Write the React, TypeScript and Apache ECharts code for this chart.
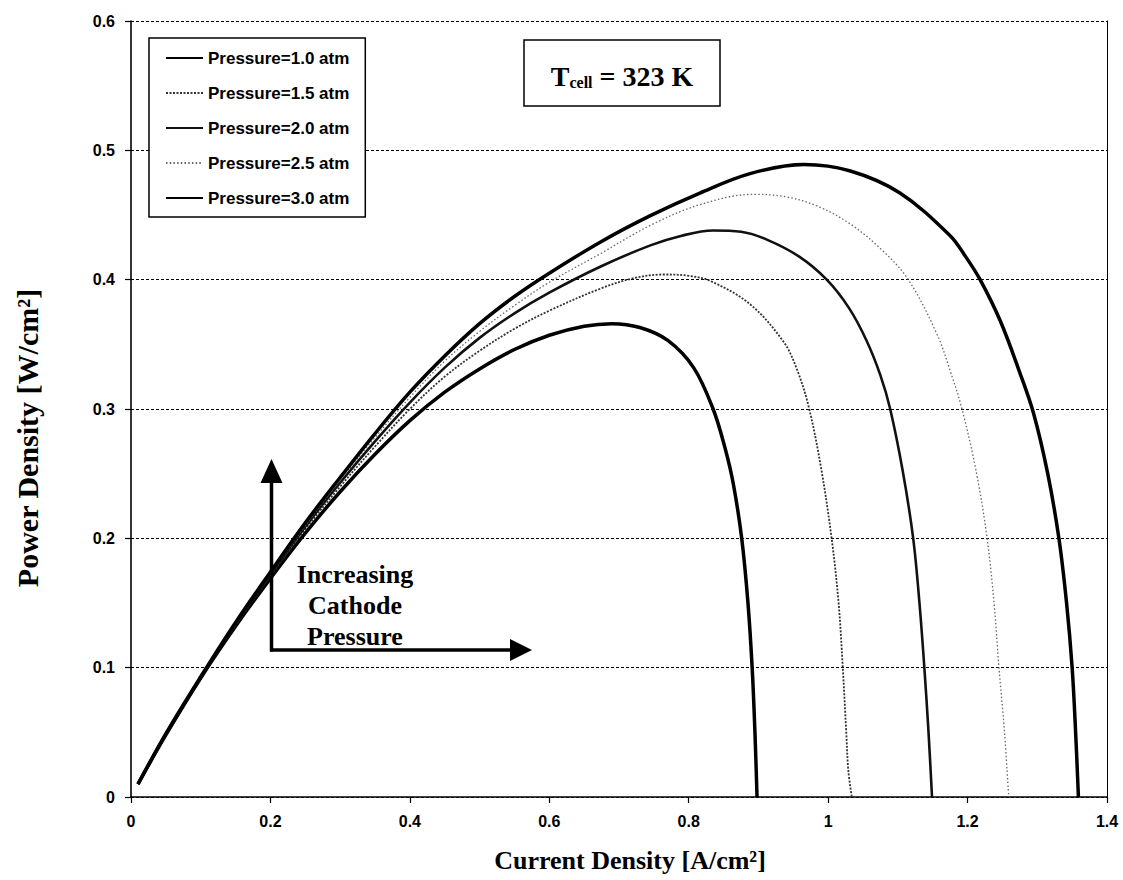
import React, { useEffect, useRef } from "react";
import * as echarts from "echarts";

const FONT_SANS = '"Liberation Sans", Arial, sans-serif';
const FONT_SERIF = '"Liberation Serif", "Times New Roman", serif';

const seriesNames = [
  "Pressure=1.0 atm",
  "Pressure=1.5 atm",
  "Pressure=2.0 atm",
  "Pressure=2.5 atm",
  "Pressure=3.0 atm",
];

// [current density A/cm2, power density W/cm2]
const p10: number[][] = [
  [0.01, 0.01], [0.05, 0.048], [0.1, 0.092], [0.15, 0.132], [0.2, 0.169], [0.25, 0.204],
  [0.3, 0.236], [0.35, 0.265], [0.4, 0.291], [0.45, 0.313], [0.5, 0.331], [0.55, 0.346],
  [0.6, 0.357], [0.65, 0.364], [0.69, 0.366], [0.73, 0.363], [0.77, 0.353], [0.807, 0.332],
  [0.835, 0.3], [0.852, 0.27], [0.864, 0.242], [0.876, 0.2], [0.885, 0.15], [0.891, 0.1],
  [0.895, 0.05], [0.898, 0],
];
const p15: number[][] = [
  [0.01, 0.01], [0.05, 0.048], [0.1, 0.092], [0.15, 0.133], [0.2, 0.171], [0.25, 0.207],
  [0.3, 0.24], [0.35, 0.271], [0.4, 0.3], [0.45, 0.325], [0.5, 0.345], [0.55, 0.362],
  [0.6, 0.376], [0.673, 0.393], [0.72, 0.401], [0.764, 0.404], [0.8, 0.403], [0.831, 0.399],
  [0.888, 0.381], [0.936, 0.352], [0.955, 0.331], [0.972, 0.302], [0.99, 0.254], [1.005, 0.2],
  [1.015, 0.15], [1.021, 0.1], [1.026, 0.05], [1.029, 0.02], [1.034, 0],
];
const p20: number[][] = [
  [0.01, 0.01], [0.05, 0.048], [0.1, 0.092], [0.15, 0.134], [0.2, 0.172], [0.25, 0.209],
  [0.3, 0.243], [0.35, 0.275], [0.4, 0.305], [0.45, 0.332], [0.5, 0.355], [0.55, 0.374],
  [0.6, 0.39], [0.673, 0.41], [0.745, 0.4265], [0.79, 0.434], [0.835, 0.438], [0.875, 0.437],
  [0.912, 0.431], [0.958, 0.418], [0.998, 0.4], [1.03, 0.378], [1.055, 0.353], [1.075, 0.326],
  [1.089, 0.3], [1.107, 0.252], [1.122, 0.2], [1.131, 0.15], [1.138, 0.1], [1.144, 0.05],
  [1.149, 0],
];
const p25: number[][] = [
  [0.01, 0.01], [0.05, 0.048], [0.1, 0.093], [0.15, 0.134], [0.2, 0.173], [0.25, 0.21],
  [0.3, 0.245], [0.35, 0.278], [0.4, 0.309], [0.45, 0.337], [0.5, 0.36], [0.55, 0.38],
  [0.6, 0.398], [0.673, 0.42], [0.745, 0.442], [0.816, 0.458], [0.893, 0.466], [0.94, 0.464],
  [0.984, 0.457], [1.032, 0.443], [1.079, 0.422], [1.115, 0.4], [1.156, 0.358], [1.176, 0.328],
  [1.192, 0.3], [1.213, 0.25], [1.228, 0.2], [1.238, 0.15], [1.245, 0.1], [1.253, 0.05],
  [1.259, 0],
];
const p30: number[][] = [
  [0.01, 0.01], [0.05, 0.049], [0.1, 0.093], [0.15, 0.135], [0.2, 0.174], [0.25, 0.212],
  [0.3, 0.247], [0.35, 0.281], [0.4, 0.313], [0.45, 0.341], [0.5, 0.366], [0.55, 0.387],
  [0.6, 0.405], [0.673, 0.429], [0.745, 0.4495], [0.816, 0.467], [0.888, 0.482], [0.965, 0.489],
  [1.032, 0.484], [1.103, 0.467], [1.175, 0.434], [1.197, 0.418], [1.218, 0.4], [1.247, 0.368],
  [1.275, 0.328], [1.295, 0.296], [1.315, 0.25], [1.331, 0.2], [1.342, 0.15], [1.35, 0.1],
  [1.355, 0.05], [1.359, 0],
];

const seriesData = [p10, p15, p20, p25, p30];

const lineStyles = [
  { color: "#000", width: 3.5, type: "solid" },
  { color: "#333", width: 1.8, type: [2, 1.5] },
  { color: "#111", width: 2.6, type: "solid" },
  { color: "#666", width: 1.3, type: [1.5, 2.2] },
  { color: "#000", width: 3.5, type: "solid" },
];

const xTickMin = 0;
const xTickMax = 1.4;
const xTickStep = 0.2;
const yTickMin = 0;
const yTickMax = 0.6;
const yTickStep = 0.1;

const xTitle = "Current Density [A/cm²]";
const yTitle = "Power Density [W/cm²]";
const noteText = "Increasing\nCathode\nPressure";

export default function App() {
  const ref = useRef<HTMLDivElement>(null);

  useEffect(() => {
    if (!ref.current) return;
    const chart = echarts.init(ref.current, undefined, { renderer: "svg" });

    const series = seriesData.map((d, i) => ({
      name: seriesNames[i],
      type: "line",
      data: d,
      smooth: 0.35,
      symbol: "none",
      showSymbol: false,
      lineStyle: { ...lineStyles[i] },
      itemStyle: { color: lineStyles[i].color },
      z: 3,
    }));

    chart.setOption({
      animation: false,
      backgroundColor: "#fff",
      grid: { left: 131, top: 21, width: 976, height: 776, containLabel: false },
      xAxis: {
        type: "value",
        min: xTickMin,
        max: xTickMax,
        interval: xTickStep,
        axisLine: { show: true, onZero: false, lineStyle: { color: "#000", width: 1.6 } },
        axisTick: { show: true, length: 6, lineStyle: { color: "#000", width: 1.2 } },
        axisLabel: {
          margin: 16,
          color: "#000",
          fontFamily: FONT_SANS,
          fontSize: 16,
          fontWeight: "bold",
        },
        splitLine: { show: false },
      },
      yAxis: [
        {
          type: "value",
          min: yTickMin,
          max: yTickMax,
          interval: yTickStep,
          axisLine: { show: true, onZero: false, lineStyle: { color: "#000", width: 1.6 } },
          axisTick: { show: true, length: 6, lineStyle: { color: "#000", width: 1.2 } },
          axisLabel: {
            margin: 16,
            color: "#000",
            fontFamily: FONT_SANS,
            fontSize: 16,
            fontWeight: "bold",
          },
          splitLine: { show: true, lineStyle: { color: "#000", width: 1, type: [3, 2] } },
        },
        {
          type: "value",
          position: "right",
          min: yTickMin,
          max: yTickMax,
          interval: yTickStep,
          axisLine: { show: true, onZero: false, lineStyle: { color: "#000", width: 1 } },
          axisTick: { show: false },
          axisLabel: { show: false },
          splitLine: { show: false },
        },
      ],
      legend: {
        orient: "vertical",
        left: 149,
        top: 38,
        padding: [10, 16, 9, 16],
        borderColor: "#000",
        borderWidth: 1.5,
        backgroundColor: "#fff",
        itemWidth: 37,
        itemHeight: 14,
        itemGap: 15,
        itemStyle: { opacity: 0, borderWidth: 0 },
        textStyle: {
          fontFamily: FONT_SANS,
          fontSize: 17,
          fontWeight: "bold",
          color: "#000",
          lineHeight: 20,
        },
        data: seriesNames,
      },
      series,
      graphic: [
        {
          type: "rect",
          shape: { x: 524, y: 40, width: 196, height: 66 },
          style: { fill: "#fff", stroke: "#000", lineWidth: 1.5 },
          z: 10,
        },
        {
          type: "text",
          x: 622,
          y: 73,
          z: 11,
          style: {
            text: "{a|T}{b|cell}{a| = 323 K}",
            align: "center",
            verticalAlign: "middle",
            fill: "#000",
            rich: {
              a: { fontFamily: FONT_SERIF, fontSize: 28, fontWeight: "bold", verticalAlign: "bottom", lineHeight: 34, fill: "#000" },
              b: { fontFamily: FONT_SERIF, fontSize: 16, fontWeight: "bold", verticalAlign: "bottom", lineHeight: 16, fill: "#000" },
            },
          },
        },
        {
          type: "line",
          shape: { x1: 271.5, y1: 651.5, x2: 271.5, y2: 480 },
          style: { stroke: "#000", lineWidth: 3.5 },
          z: 10,
        },
        {
          type: "polygon",
          shape: { points: [[260.5, 483], [282.5, 483], [271.5, 459]] },
          style: { fill: "#000" },
          z: 10,
        },
        {
          type: "line",
          shape: { x1: 270, y1: 650, x2: 512, y2: 650 },
          style: { stroke: "#000", lineWidth: 3.5 },
          z: 10,
        },
        {
          type: "polygon",
          shape: { points: [[510, 639], [510, 661], [532, 650]] },
          style: { fill: "#000" },
          z: 10,
        },
        {
          type: "text",
          x: 355,
          y: 558.5,
          z: 10,
          style: {
            text: noteText,
            align: "center",
            verticalAlign: "top",
            fontFamily: FONT_SERIF,
            fontSize: 26,
            fontWeight: "bold",
            lineHeight: 31,
            fill: "#000",
          },
        },
        {
          type: "text",
          x: 630,
          y: 860,
          style: {
            text: xTitle,
            align: "center",
            verticalAlign: "middle",
            fontFamily: FONT_SERIF,
            fontSize: 26,
            fontWeight: "bold",
            fill: "#000",
          },
        },
        {
          type: "text",
          x: 27,
          y: 438,
          rotation: Math.PI / 2,
          style: {
            text: yTitle,
            align: "center",
            verticalAlign: "middle",
            fontFamily: FONT_SERIF,
            fontSize: 30,
            fontWeight: "bold",
            fill: "#000",
          },
        },
      ],
    });

    return () => chart.dispose();
  }, []);

  return (
    <div
      ref={ref}
      style={{ position: "fixed", left: 0, top: 0, width: 1123, height: 880, background: "#fff" }}
    />
  );
}
